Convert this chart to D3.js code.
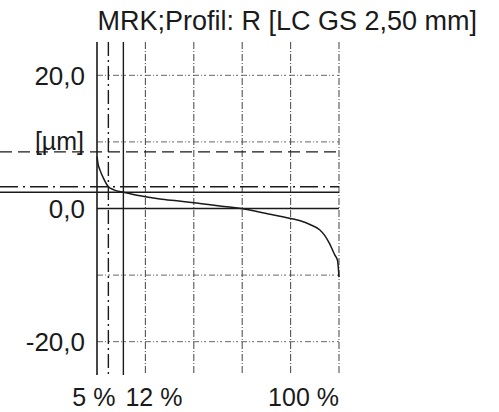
<!DOCTYPE html>
<html><head><meta charset="utf-8">
<script src="https://cdn.jsdelivr.net/npm/d3@7"></script>
<style>
body{margin:0;background:#fff}
svg{display:block}
text{font-family:"Liberation Sans",Arial,sans-serif;fill:#1a1a1a}
</style>
</head><body><svg id="c" width="499" height="412"></svg>
<script>
// ---- data ----
const titleText = "MRK;Profil: R [LC GS 2,50 mm]";
const unitLabel = "[µm]";
const yTickValues = [20, 0, -20];
const yTickLabels = ["20,0", "0,0", "-20,0"];
const yGridValues = [20, 10, -10, -20];
const xGridValues = [20, 40, 60, 80, 100];
const xLabels = ["5 %", "12 %", "100 %"];
// material ratio (%) and height (µm) of the Abbott curve
const curveX = [0, 0.5, 1.2, 2.6, 4.7, 7, 10.9, 15, 20, 26, 33, 40, 50, 60, 70, 80, 84, 88, 92, 94, 96, 98.3, 99.4, 100];
const curveY = [7.8, 6.6, 5.8, 4.6, 3.27, 2.8, 2.43, 2.1, 1.77, 1.43, 1.15, 0.87, 0.4, -0.05, -0.75, -1.5, -1.85, -2.4, -3.2, -4.0, -5.2, -7.0, -7.8, -10.3];
// reference lines
const hLineValues = [8.5, 3.27, 2.43];   // dashed, dash-dot, solid
const vLineValues = [4.7, 10.9];         // dash-dot, solid
const xDomain = [0, 100];
const yDomain = [-25, 25];

// ---- drawing ----
const svg = d3.select("#c");
const x = d3.scaleLinear().domain(xDomain).range([97, 339]);
const y = d3.scaleLinear().domain(yDomain).range([375, 42]);
const ink = "#1a1a1a";

// grid
svg.append("g").selectAll("line").data(yGridValues).join("line")
  .attr("x1", x(0)).attr("x2", x(100))
  .attr("y1", d => y(d)).attr("y2", d => y(d))
  .attr("stroke", "#666").attr("stroke-width", 1)
  .attr("stroke-dasharray", "6,2,1,2,2,3");
svg.append("g").selectAll("line").data(xGridValues).join("line")
  .attr("x1", d => x(d)).attr("x2", d => x(d))
  .attr("y1", y(25)).attr("y2", y(-25))
  .attr("stroke", "#555").attr("stroke-width", 1.1)
  .attr("stroke-dasharray", "7,2,1,2");

// zero line
svg.append("line").attr("x1", x(0)).attr("x2", x(100))
  .attr("y1", y(0)).attr("y2", y(0))
  .attr("stroke", ink).attr("stroke-width", 1.4);

// horizontal reference lines
const hStyles = [
  {dash: "12,6", w: 1.4},
  {dash: "18,5,2,5", w: 1.4},
  {dash: null, w: 1.4}
];
svg.append("g").selectAll("line").data(hLineValues).join("line")
  .attr("x1", 0).attr("x2", x(100))
  .attr("y1", d => y(d)).attr("y2", d => y(d))
  .attr("stroke", ink)
  .attr("stroke-width", (d, i) => hStyles[i].w)
  .attr("stroke-dasharray", (d, i) => hStyles[i].dash);

// vertical reference lines
const vStyles = [{dash: "14,4,2,4"}, {dash: null}];
svg.append("g").selectAll("line").data(vLineValues).join("line")
  .attr("x1", d => x(d)).attr("x2", d => x(d))
  .attr("y1", y(25)).attr("y2", y(-25))
  .attr("stroke", ink).attr("stroke-width", 1.4)
  .attr("stroke-dasharray", (d, i) => vStyles[i].dash);

// left axis
svg.append("line").attr("x1", x(0)).attr("x2", x(0))
  .attr("y1", y(25)).attr("y2", y(-25))
  .attr("stroke", ink).attr("stroke-width", 1.6);

// curve
const pts = curveX.map((v, i) => [v, curveY[i]]);
svg.append("path").datum(pts)
  .attr("fill", "none").attr("stroke", ink).attr("stroke-width", 1.5)
  .attr("d", d3.line().x(d => x(d[0])).y(d => y(d[1])).curve(d3.curveMonotoneX));

// y tick labels
svg.append("g").selectAll("text").data(yTickValues).join("text")
  .attr("x", 85).attr("y", d => y(d)).attr("dy", "0.36em")
  .attr("text-anchor", "end").attr("font-size", 26)
  .text((d, i) => yTickLabels[i]);

// unit label
svg.append("text").attr("x", 84).attr("y", 150)
  .attr("text-anchor", "end").attr("font-size", 25).text(unitLabel);

// x labels
const xl = svg.append("g").attr("font-size", 25);
xl.append("text").attr("x", x(vLineValues[1]) - 8).attr("y", 406).attr("text-anchor", "end").text(xLabels[0]);
xl.append("text").attr("x", x(vLineValues[1]) + 2).attr("y", 406).attr("text-anchor", "start").text(xLabels[1]);
xl.append("text").attr("x", x(100)).attr("y", 406).attr("text-anchor", "end").text(xLabels[2]);

// title
svg.append("text").attr("x", 477).attr("y", 30)
  .attr("text-anchor", "end").attr("font-size", 27).text(titleText);
</script>
</body></html>
